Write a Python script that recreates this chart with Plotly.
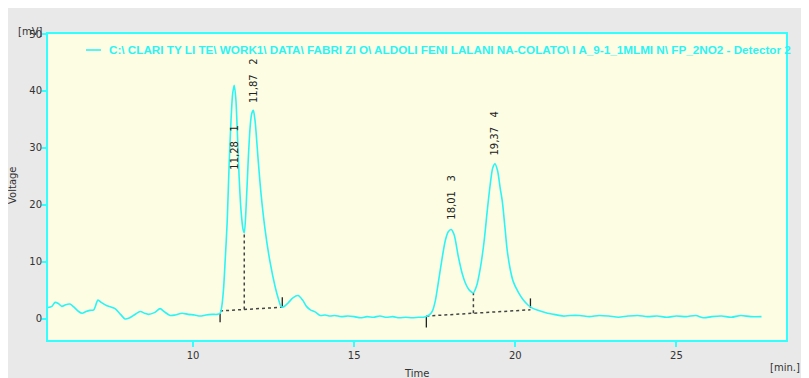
import plotly.graph_objects as go

# ---- data ----
time_min = [5.50, 5.62, 5.72, 5.82, 5.93, 6.05, 6.18, 6.30, 6.45, 6.56, 6.68, 6.80, 6.92, 7.05, 7.15,
            7.33, 7.45, 7.58, 7.75, 7.89, 8.00, 8.15, 8.36, 8.50, 8.61, 8.80, 8.98, 9.10, 9.29, 9.45,
            9.66, 9.85, 10.05, 10.22, 10.40, 10.60, 10.75, 10.84, 10.90, 10.95, 11.00, 11.06, 11.12,
            11.18, 11.23, 11.28, 11.33, 11.37, 11.43, 11.49, 11.55, 11.59, 11.65, 11.71, 11.77, 11.82,
            11.87, 11.92, 11.96, 12.02, 12.11, 12.24, 12.39, 12.55, 12.65, 12.74, 12.80, 12.95, 13.10,
            13.26, 13.40, 13.52, 13.64, 13.80, 13.95, 14.10, 14.25, 14.40, 14.60, 14.80, 15.00, 15.20,
            15.40, 15.60, 15.80, 16.00, 16.20, 16.40, 16.60, 16.80, 17.00, 17.15, 17.27, 17.35, 17.43,
            17.52, 17.59, 17.67, 17.74, 17.83, 17.92, 18.01, 18.10, 18.23, 18.35, 18.45, 18.58, 18.70,
            18.80, 18.92, 19.03, 19.13, 19.22, 19.30, 19.37, 19.45, 19.53, 19.60, 19.68, 19.75, 19.85,
            19.94, 20.10, 20.25, 20.40, 20.53, 20.70, 21.00, 21.20, 21.49, 21.70, 22.00, 22.30, 22.60,
            22.90, 23.20, 23.50, 23.80, 24.10, 24.40, 24.70, 25.00, 25.30, 25.60, 25.84, 26.10, 26.40,
            26.70, 27.00, 27.30, 27.64]
voltage_mv = [2.0, 2.2, 2.9, 2.7, 2.2, 2.5, 2.6, 2.1, 1.3, 1.0, 1.3, 1.5, 1.6, 3.3, 2.9,
              2.3, 2.1, 1.8, 0.8, 0.0, 0.1, 0.6, 1.3, 1.0, 0.8, 1.1, 1.8, 1.3, 0.6, 0.7,
              1.0, 0.8, 0.7, 0.5, 0.7, 0.8, 0.8, 1.0, 2.5, 5.5, 10.5, 17.0, 27.0,
              35.0, 39.5, 41.0, 38.5, 33.5, 25.0, 19.0, 15.8, 15.1, 20.0, 27.5, 33.5, 36.0,
              36.6, 35.0, 32.5, 28.0, 22.0, 15.5, 10.0, 5.6, 3.5, 2.1, 2.1, 2.8, 3.7,
              4.1, 3.3, 2.2, 1.6, 1.2, 0.6, 0.7, 0.5, 0.6, 0.4, 0.5, 0.4, 0.2,
              0.4, 0.3, 0.5, 0.3, 0.4, 0.2, 0.3, 0.2, 0.3, 0.3, 0.5, 0.8, 1.4,
              3.2, 5.6, 8.5, 11.0, 13.8, 15.3, 15.7, 14.8, 11.0, 8.0, 6.3, 5.0, 4.6,
              5.8, 9.1, 13.5, 19.0, 23.5, 26.5, 27.2, 26.0, 23.0, 20.5, 16.0, 12.0, 8.5,
              6.5, 4.6, 3.3, 2.4, 1.9, 1.5, 1.0, 0.8, 0.5, 0.6, 0.6, 0.4, 0.6,
              0.5, 0.3, 0.5, 0.6, 0.4, 0.5, 0.3, 0.5, 0.4, 0.6, 0.2, 0.4, 0.5,
              0.3, 0.6, 0.4, 0.4]

peak_times = [11.28, 11.87, 18.01, 19.37]
peak_numbers = [1, 2, 3, 4]
peak_label_y = [25.8, 37.5, 17.0, 28.4]

# integration baselines (start, end) per peak group
baseline_x = [[10.84, 12.77], [17.24, 20.47]]
baseline_y = [[1.4, 2.05], [0.5, 1.6]]
# drop lines at valleys
drop_x = [11.59, 18.70]
drop_y0 = [1.65, 1.0]
drop_y1 = [15.1, 4.6]
# peak start/end markers
marker_x = [10.84, 12.77, 17.24, 20.47]
marker_y0 = [1.0, 2.2, 0.5, 1.9]
marker_y1 = [-0.6, 3.8, -1.5, 3.6]

x_ticks = [10, 15, 20, 25]
y_ticks = [0, 10, 20, 30, 40, 50]

legend_text = ("C:\\ CLARI TY LI TE\\ WORK1\\ DATA\\ FABRI ZI O\\ ALDOLI FENI LALANI NA-COLATO\\ "
               "I A_9-1_1MLMI N\\ FP_2NO2 - Detector 2")

CYAN = "#2cf4f4"
BORDER = "#33ffff"
DARK = "#333333"

fig = go.Figure()

for bx, by in zip(baseline_x, baseline_y):
    fig.add_trace(go.Scatter(x=bx, y=by, mode="lines",
                             line=dict(color="#444444", width=1.5, dash="dot"),
                             hoverinfo="skip", showlegend=False))
for dx, a, b in zip(drop_x, drop_y0, drop_y1):
    fig.add_trace(go.Scatter(x=[dx, dx], y=[a, b], mode="lines",
                             line=dict(color="#444444", width=1.5, dash="dot"),
                             hoverinfo="skip", showlegend=False))
for mx, a, b in zip(marker_x, marker_y0, marker_y1):
    fig.add_trace(go.Scatter(x=[mx, mx], y=[a, b], mode="lines",
                             line=dict(color="#222222", width=1.3),
                             hoverinfo="skip", showlegend=False))

fig.add_trace(go.Scatter(x=time_min, y=voltage_mv, mode="lines",
                         line=dict(color=CYAN, width=1.6, shape="spline", smoothing=0.8),
                         showlegend=False))

for t, n, ly in zip(peak_times, peak_numbers, peak_label_y):
    fig.add_annotation(x=t, y=ly, xref="x", yref="y",
                       text=f"{t:.2f}".replace(".", ",") + "   " + str(n),
                       textangle=-90, showarrow=False, yanchor="bottom", xanchor="center",
                       font=dict(family="DejaVu Sans", size=10, color="#222222"))

# page has an 8px body margin; figure is placed at (8, 8)
OFF = 8
W, H = 809 - OFF, 378 - OFF
L, R, T, B = 48 - OFF, 23, 34 - OFF, 38
pw, ph = W - L - R, H - T - B

def px(xp):  # page pixel -> paper
    return (xp - OFF - L) / pw

def py(yp):
    return (H - B - (yp - OFF)) / ph

# legend line + text
fig.add_shape(type="line", xref="paper", yref="paper",
              x0=px(86), x1=px(101), y0=py(50), y1=py(50),
              line=dict(color=CYAN, width=1.6))
fig.add_annotation(x=px(107), y=py(49), xref="paper", yref="paper",
                   text=legend_text, showarrow=False, xanchor="left", yanchor="middle",
                   font=dict(family="Liberation Sans", size=11.7, color=CYAN, weight="bold"))

# axis labels
lab_font = dict(family="DejaVu Sans", size=10, color=DARK)
fig.add_annotation(x=px(30), y=py(31), xref="paper", yref="paper", text="[mV]",
                   xanchor="center", yanchor="middle", showarrow=False, font=lab_font)
fig.add_annotation(x=px(12), y=py(185), xref="paper", yref="paper", text="Voltage",
                   xanchor="center", yanchor="middle", textangle=-90, showarrow=False, font=lab_font)
fig.add_annotation(x=px(416), y=py(373), xref="paper", yref="paper", text="Time",
                   xanchor="center", yanchor="middle", showarrow=False, font=lab_font)
fig.add_annotation(x=px(785), y=py(367), xref="paper", yref="paper", text="[min.]",
                   xanchor="center", yanchor="middle", showarrow=False, font=lab_font)

axis_common = dict(showgrid=False, zeroline=False, showline=True, linecolor=BORDER, linewidth=2,
                   mirror=True, ticks="outside", ticklen=5, tickcolor=BORDER, tickwidth=1.5,
                   tickfont=dict(family="DejaVu Sans", size=10, color=DARK))

fig.update_layout(
    width=W, height=H, autosize=False,
    margin=dict(l=L, r=R, t=T, b=B),
    paper_bgcolor="#e9e9e9", plot_bgcolor="#fcfde3",
    xaxis=dict(range=[5.5, 28.4], tickvals=x_ticks, **axis_common),
    yaxis=dict(range=[-3.7, 50], tickvals=y_ticks, ticklabelstandoff=-3, **axis_common),
    showlegend=False,
)

fig.write_html("out.html")
